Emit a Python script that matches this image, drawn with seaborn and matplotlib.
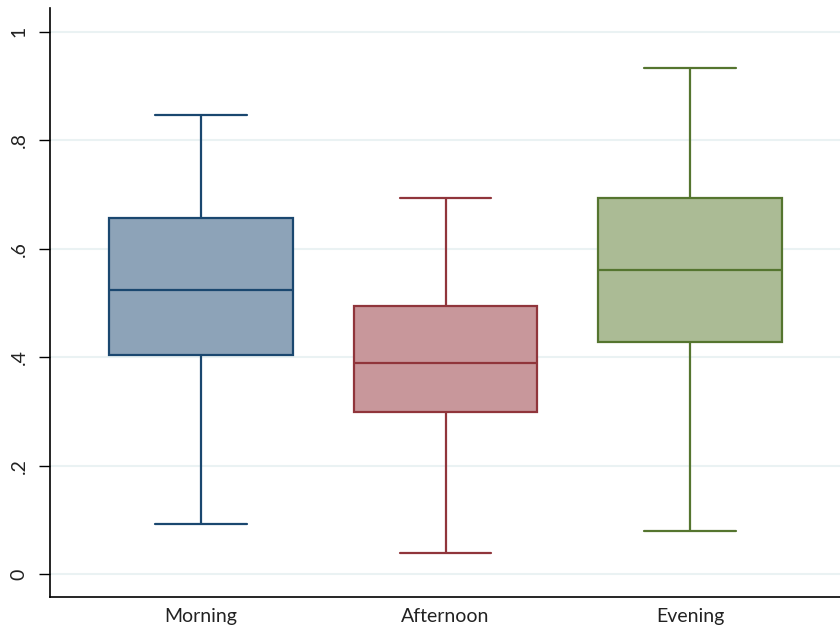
import matplotlib
matplotlib.use("Agg")
import matplotlib.pyplot as plt
import seaborn as sns
import numpy as np
import pandas as pd

# five-number summaries: min, q1, median, q3, max
categories = ["Morning", "Afternoon", "Evening"]
morning = [0.092, 0.404, 0.524, 0.657, 0.847]
afternoon = [0.039, 0.299, 0.389, 0.494, 0.694]
evening = [0.079, 0.428, 0.561, 0.694, 0.934]
yticks = [0, 0.2, 0.4, 0.6, 0.8, 1]
ytick_labels = ["0", ".2", ".4", ".6", ".8", "1"]

edge_colors = ["#1A476F", "#90353B", "#55752F"]
fill_colors = ["#8DA3B8", "#C8979B", "#ABBB95"]

# with 5 points, linear percentiles hit the given quartiles exactly
df = pd.DataFrame({
    "period": np.repeat(categories, 5),
    "value": morning + afternoon + evening,
})

sns.set_style("white")
plt.rcParams["font.family"] = ["Lato", "DejaVu Sans"]

fig = plt.figure(figsize=(8.4, 6.28), dpi=100)
ax = fig.add_axes([50 / 840, 31 / 628, 790 / 840, 589 / 628])

sns.boxplot(data=df, x="period", y="value", order=categories, whis=(0, 100),
            width=0.75, ax=ax, linewidth=1.6, fliersize=0)

for i, patch in enumerate(ax.patches):
    patch.set_facecolor(fill_colors[i])
    patch.set_edgecolor(edge_colors[i])
    patch.set_linewidth(1.6)
lines = ax.lines
per = len(lines) // 3
for i in range(3):
    for ln in lines[i * per:(i + 1) * per]:
        ln.set_color(edge_colors[i])
        ln.set_linewidth(1.6)

ax.set_xlim(-0.618, 2.613)
ax.set_ylim(-0.0424, 1.044)
ax.set_yticks(yticks)
ax.set_yticklabels(ytick_labels, rotation=90, va="center")
ax.yaxis.grid(True, color="#EAF2F3", linewidth=1.5)
ax.set_axisbelow(True)
ax.set_xlabel("")
ax.set_ylabel("")
for s in ["top", "right"]:
    ax.spines[s].set_visible(False)
for s in ["left", "bottom"]:
    ax.spines[s].set_color("black")
    ax.spines[s].set_linewidth(1.2)
ax.tick_params(axis="y", left=True, length=8, width=1, color="black", pad=8,
               labelsize=14, labelcolor="#222222")
ax.tick_params(axis="x", bottom=False, length=0, pad=8, labelsize=14,
               labelcolor="#222222")

fig.savefig("out.png", dpi=100)
